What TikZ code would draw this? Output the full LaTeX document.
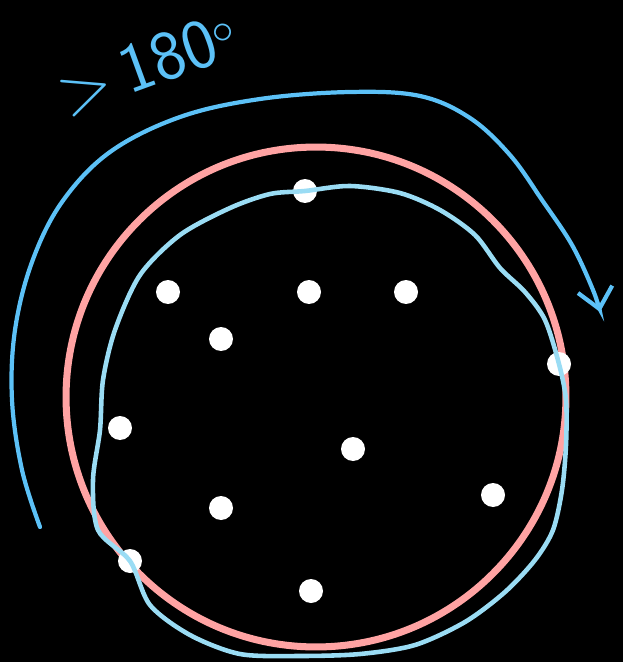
\documentclass[tikz,border=0pt]{standalone}
\usepackage{xcolor}
\usepackage{tikz}
\usetikzlibrary{arrows.meta,positioning,calc}
\definecolor{hullpink}{HTML}{FFA3A3}
\definecolor{hullblue}{HTML}{9ADCF4}
\definecolor{sweepblue}{HTML}{5CC1F7}

\begin{document}
\begin{tikzpicture}[
  x=0.02cm, y=-0.02cm,
  pt/.style={circle, fill=white, inner sep=0pt, minimum size=0.48cm},
  ring/.style={draw=hullpink, line width=4pt},
  wobble/.style={draw=hullblue, line width=2.6pt, line join=round},
  sweep/.style={draw=sweepblue, line width=2.4pt, line cap=round, -{Straight Barb[length=4mm, width=7mm, line width=2.4pt]}}
]
  \fill[black] (0,0) rectangle (623,662);
  \useasboundingbox (0,0) rectangle (623,662);

  % enclosing circle
  \node[ring, circle, minimum size=10cm, inner sep=0pt] (circ) at (316,397) {};

  % the points
  \node[pt] (p1) at (305,191) {};
  \node[pt] (p2) at (168,292) {};
  \node[pt] (p3) at (309,292) {};
  \node[pt] (p4) at (406,292) {};
  \node[pt] (p5) at (221,339) {};
  \node[pt] (p6) at (559,364) {};
  \node[pt] (p7) at (120,428) {};
  \node[pt] (p8) at (353,449) {};
  \node[pt] (p9) at (493,495) {};
  \node[pt] (p10) at (221,508) {};
  \node[pt] (p11) at (130,561) {};
  \node[pt] (p12) at (311,591) {};

  % hand drawn circle through three points
  \draw[wobble] plot[smooth cycle, tension=0.5] coordinates {
    (p1.center) (350,186) (400,193) (440,210) (475,235) (500,268) (525,292)
    (545,320) (p6.center) (566,400) (566,445) (562,490) (553,530) (535,560)
    (505,592) (465,622) (415,645) (360,654) (300,656) (240,654) (190,635)
    (150,605) (p11.center) (98,530) (93,480) (100,430) (103,380) (115,330)
    (140,275) (180,235) (230,208) (270,194)};

  % sweep arrow
  \coordinate (s0) at (40,527);
  \coordinate (s1) at (600,312);
  \draw[sweep] plot[smooth, tension=0.6] coordinates {
    (s0) (22,470) (12,400) (15,330) (32,262) (62,202) (110,152) (180,117)
    (260,99) (350,92) (420,96) (470,118) (510,155) (542,200) (572,245)
    (593,290) (s1)};

  \node[text=sweepblue, font=\sffamily\fontsize{40}{40}\selectfont, rotate=20, inner sep=0pt] (lbl) at (148,64) {\textgreater\,180$^{\circ}$};
\end{tikzpicture}
\end{document}
